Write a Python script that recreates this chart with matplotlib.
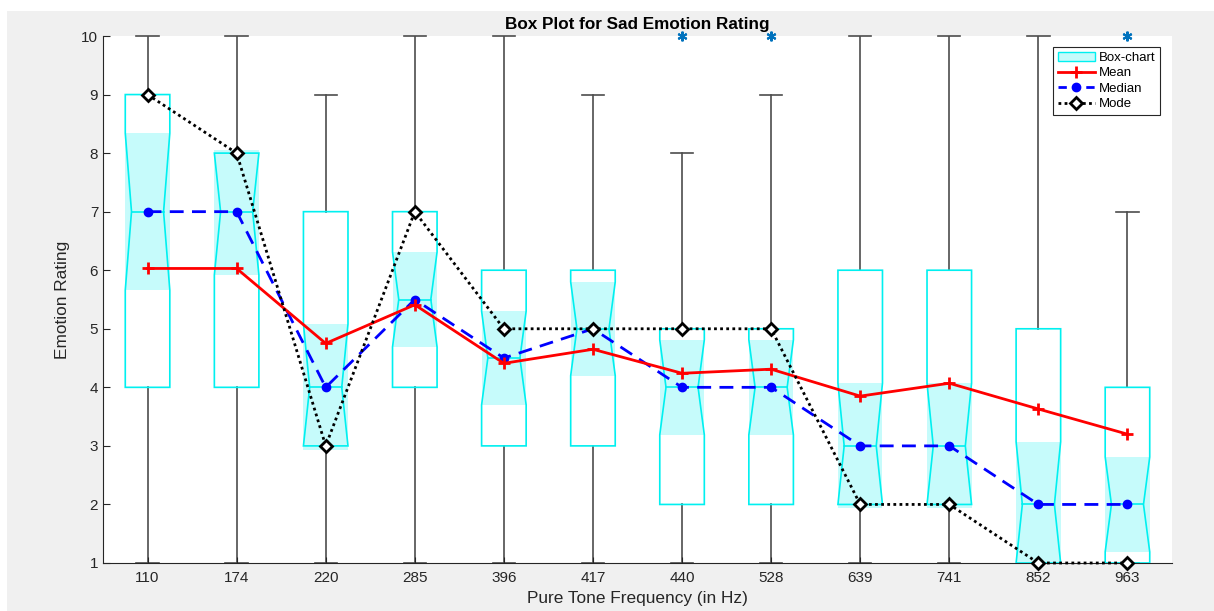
import numpy as np
import matplotlib.pyplot as plt
from matplotlib.patches import Polygon, Rectangle, Patch
from matplotlib.lines import Line2D

plt.rcParams['font.family'] = ['Liberation Sans', 'DejaVu Sans']

# values
freqs = ['110', '174', '220', '285', '396', '417', '440', '528', '639', '741', '852', '963']
q1 = [4, 4, 3, 4, 3, 3, 2, 2, 2, 2, 1, 1]
q3 = [9, 8, 7, 7, 6, 6, 5, 5, 6, 6, 5, 4]
medians = [7, 7, 4, 5.5, 4.5, 5, 4, 4, 3, 3, 2, 2]
whisk_lo = [1, 1, 1, 1, 1, 1, 1, 1, 1, 1, 1, 1]
whisk_hi = [10, 10, 9, 10, 10, 9, 8, 9, 10, 10, 10, 7]
notch_lo = [5.66, 5.92, 2.93, 4.69, 3.70, 4.20, 3.19, 3.19, 1.94, 1.94, 0.93, 1.19]
notch_hi = [8.34, 8.05, 5.08, 6.31, 5.30, 5.80, 4.81, 4.81, 4.07, 4.07, 3.07, 2.81]
means = [6.03, 6.03, 4.75, 5.41, 4.41, 4.65, 4.24, 4.31, 3.85, 4.07, 3.63, 3.20]
modes = [9, 8, 3, 7, 5, 5, 5, 5, 2, 2, 1, 1]
outlier_freqs = ['440', '528', '963']
outlier_vals = [10, 10, 10]

box_edge = '#00f0f0'
box_fill = '#c6fbfb'
whisk_col = '#4d4d4d'

fig = plt.figure(figsize=(12.14, 6.11), dpi=100, facecolor='#f0f0f0')
# white strip on the top/left like the screenshot
fig.patches.append(Rectangle((0, 1 - 11 / 611), 1, 11 / 611, transform=fig.transFigure,
                             facecolor='white', edgecolor='none', zorder=0))
fig.patches.append(Rectangle((0, 0), 7 / 1214, 1, transform=fig.transFigure,
                             facecolor='white', edgecolor='none', zorder=0))

ax = fig.add_axes([103 / 1214, 1 - 563 / 611, (1172 - 103) / 1214, (563 - 36) / 611])
ax.set_facecolor('white')

x = np.arange(1, len(freqs) + 1)
w = 0.25    # half box width
nw = 0.18   # half width at notch
cw = 0.125  # half cap width

for i, xi in enumerate(x):
    # whiskers
    ax.plot([xi, xi], [whisk_lo[i], q1[i]], color=whisk_col, lw=1.2, zorder=1)
    ax.plot([xi, xi], [q3[i], whisk_hi[i]], color=whisk_col, lw=1.2, zorder=1)
    ax.plot([xi - cw, xi + cw], [whisk_lo[i]] * 2, color=whisk_col, lw=1.2, zorder=1, clip_on=False)
    ax.plot([xi - cw, xi + cw], [whisk_hi[i]] * 2, color=whisk_col, lw=1.2, zorder=1, clip_on=False)
    # notch fill
    ax.add_patch(Rectangle((xi - w, notch_lo[i]), 2 * w, notch_hi[i] - notch_lo[i],
                           facecolor=box_fill, edgecolor='none', zorder=2))
    # notched outline
    lo = max(notch_lo[i], q1[i])
    hi = min(notch_hi[i], q3[i])
    pts = [(xi - w, q1[i]), (xi - w, lo), (xi - nw, medians[i]), (xi - w, hi), (xi - w, q3[i]),
           (xi + w, q3[i]), (xi + w, hi), (xi + nw, medians[i]), (xi + w, lo), (xi + w, q1[i])]
    ax.add_patch(Polygon(pts, closed=True, facecolor='none', edgecolor=box_edge, lw=1.2, zorder=3))
    ax.plot([xi - nw, xi + nw], [medians[i]] * 2, color=box_edge, lw=1.2, zorder=3)

# outliers
ox = [freqs.index(f) + 1 for f in outlier_freqs]
ax.plot(ox, outlier_vals, ls='none', marker=(6, 2, 0), color='#0072BD', ms=7, mew=1.5,
        zorder=4, clip_on=False)

ax.plot(x, means, color='red', lw=2, marker='+', ms=8, mew=2, zorder=6)
ax.plot(x, medians, color='blue', lw=2, ls=(0, (5, 3)), marker='o', ms=6, zorder=5)
ax.plot(x, modes, color='black', lw=2, ls=(0, (1, 1.2)), marker='D', ms=6, mfc='white',
        mec='black', mew=2, zorder=7, clip_on=False)

ax.set_xlim(0.5, 12.5)
ax.set_ylim(1, 10)
ax.set_xticks(x)
ax.set_xticklabels(freqs)
ax.set_yticks(range(1, 11))
ax.tick_params(direction='in', labelsize=11, colors='#262626', length=5)
ax.tick_params(axis='x', length=4, pad=6)
for s in ['top', 'right']:
    ax.spines[s].set_visible(False)
for s in ['left', 'bottom']:
    ax.spines[s].set_color('#262626')
    ax.spines[s].set_linewidth(0.8)

ax.set_xlabel('Pure Tone Frequency (in Hz)', fontsize=12.4, color='#262626', labelpad=4)
ax.set_ylabel('Emotion Rating', fontsize=12.4, color='#262626', labelpad=8)
ax.set_title('Box Plot for Sad Emotion Rating', fontsize=12.3, fontweight='bold', pad=5)

handles = [
    Patch(facecolor=box_fill, edgecolor=box_edge, label='Box-chart'),
    Line2D([], [], color='red', lw=2, marker='+', ms=8, mew=2, label='Mean'),
    Line2D([], [], color='blue', lw=2, ls=(0, (3, 2)), marker='o', ms=6, label='Median'),
    Line2D([], [], color='black', lw=2, ls=(0, (1, 1.2)), marker='D', ms=6, mfc='white',
           mec='black', mew=2, label='Mode'),
]
leg = ax.legend(handles=handles, loc='upper right', bbox_to_anchor=(1160 / 1214, 1 - 47 / 611),
                bbox_transform=fig.transFigure, fontsize=9.5, fancybox=False, framealpha=1,
                edgecolor='#262626', handlelength=2.8, handletextpad=0.3, borderpad=0.35,
                labelspacing=0.25, borderaxespad=0)
leg.get_frame().set_linewidth(0.8)

fig.savefig('out.png', dpi=100, facecolor=fig.get_facecolor())
